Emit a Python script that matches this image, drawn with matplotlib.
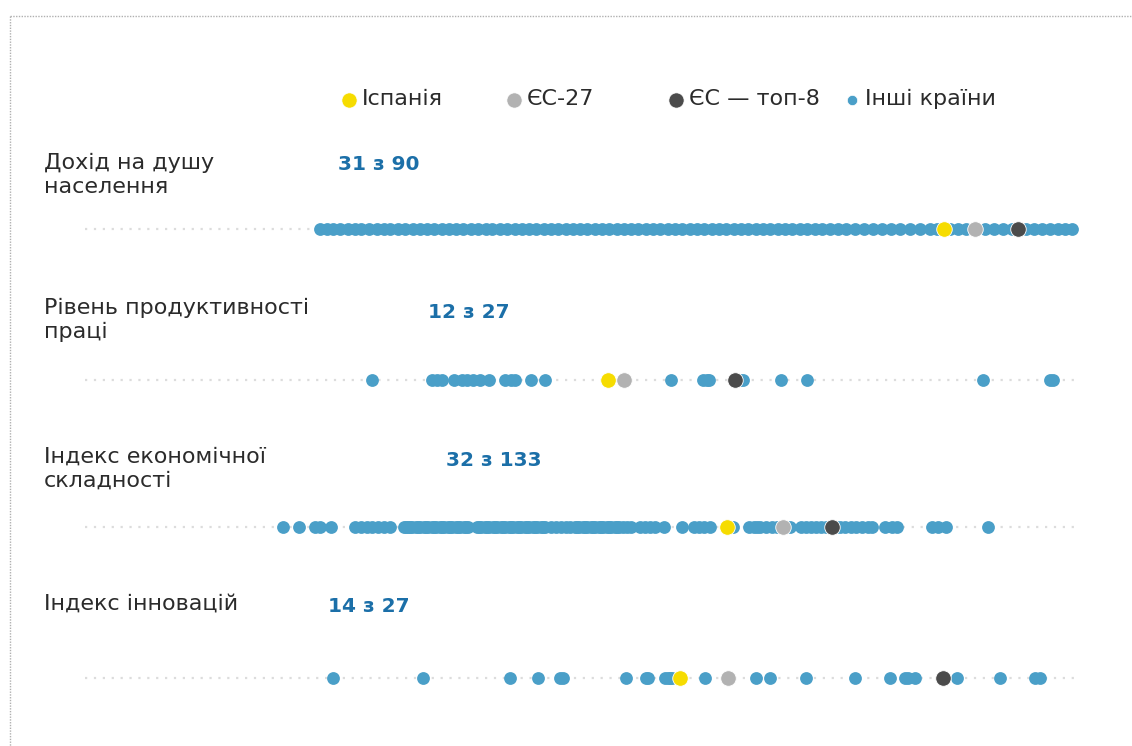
import numpy as np
import matplotlib
matplotlib.use('Agg')
import matplotlib.pyplot as plt

'''Data read off the reference (arbitrary value scale, left = low, right = high)'''

categories = ['Дохід на душу\nнаселення',
              'Рівень продуктивності\nпраці',
              'Індекс економічної\nскладності',
              'Індекс інновацій']
ranks = ['31 з 90', '12 з 27', '32 з 133', '14 з 27']

spain = [944, 608, 727, 680]
eu27 = [975, 624, 783, 728]
eu_top8 = [1018, 735, 832, 943]

income_others = [320, 327, 333, 340, 348, 355, 361, 369, 377, 384, 390, 398, 405, 413,
                 420, 427, 434, 442, 449, 456, 463, 471, 478, 486, 492, 500, 507, 515,
                 522, 529, 536, 544, 551, 558, 566, 573, 580, 587, 595, 602, 609, 617,
                 624, 631, 638, 646, 653, 660, 668, 675, 682, 690, 697, 704, 712, 719,
                 726, 734, 741, 748, 756, 763, 770, 778, 785, 792, 800, 807, 815, 822,
                 830, 838, 846, 855, 864, 873, 882, 891, 900, 910, 920, 930, 937, 950,
                 958, 966, 985, 994, 1003, 1012, 1026, 1034, 1042, 1050, 1058, 1065, 1072]

productivity_others = [372, 432, 437, 442, 454, 462, 467, 473, 480, 489, 505, 511, 515,
                       531, 545, 671, 703, 707, 709, 740, 743, 781, 807, 983, 1050, 1053]

complexity_others = [283, 299, 315, 320, 331,
                     355, 361, 367, 372, 378, 384, 390,
                     404, 406, 408, 410, 412, 416, 418, 420, 424, 426, 428, 432, 434, 436,
                     440, 442, 444, 448, 450, 452, 456, 458, 460, 464, 466, 468,
                     477, 479, 481, 485, 487, 489, 493, 495, 497, 501, 503, 505, 509, 511,
                     513, 517, 519, 521, 525, 527, 529, 533, 535, 537, 541, 543, 545,
                     551, 556, 561, 566, 570,
                     575, 577, 579, 583, 585, 587, 591, 593, 595, 599, 601, 603, 607, 609,
                     611, 615, 617, 619, 623, 627, 631,
                     640, 645, 650, 655, 664,
                     682, 694, 699, 704, 710,
                     733, 749, 754, 757, 760, 766, 772, 777, 780, 790, 801, 806, 811, 816,
                     821, 826, 836, 840, 845, 851, 856, 862, 868, 872, 885, 892, 897, 932,
                     938, 946, 988]

innovation_others = [333, 423, 510, 538, 560, 563, 626, 646, 648, 665, 668, 670, 672,
                     705, 756, 770, 806, 855, 890, 905, 908, 915, 957, 1000, 1035, 1040]

others = [income_others, productivity_others, complexity_others, innovation_others]

'''Style'''

BLUE = '#4a9fc8'
YELLOW = '#f6dc00'
GREY = '#b2b2b2'
DARK = '#4b4b4b'
RANK_BLUE = '#1b6fa8'
TEXT = '#2b2b2b'

plt.rcParams['font.family'] = ['DejaVu Sans']

row_y = [229, 380, 527, 678]
label_y = [175, 320, 469, 604]
rank_pos = [(338, 164), (428, 312), (446, 461), (328, 607)]

fig = plt.figure(figsize=(11.32, 7.46), dpi=100)
ax = fig.add_axes([0, 0, 1, 1])
ax.set_xlim(0, 1132)
ax.set_ylim(746, 0)
ax.axis('off')

# dotted frame
ax.plot([10, 1140], [16, 16], color='#b0b0b0', lw=1, ls=(0, (1, 1)), clip_on=False)
ax.plot([10, 10], [16, 760], color='#b0b0b0', lw=1, ls=(0, (1, 1)), clip_on=False)

for i in range(len(categories)):
	y = row_y[i]
	ax.plot([85, 1080], [y, y], color='#dcdcdc', lw=1.6, ls=(0, (1, 3)), zorder=1)
	vals = others[i]
	ax.scatter(vals, [y] * len(vals), s=85, color=BLUE, linewidth=0, zorder=2)
	ax.scatter([eu_top8[i]], [y], s=125, color=DARK, edgecolor='white', linewidth=0.6, zorder=4)
	ax.scatter([eu27[i]], [y], s=125, color=GREY, edgecolor='white', linewidth=0.6, zorder=4)
	ax.scatter([spain[i]], [y], s=125, color=YELLOW, edgecolor='white', linewidth=0.6, zorder=5)

	ax.text(44, label_y[i], categories[i], fontsize=16, color=TEXT, va='center', ha='left', linespacing=1.25)
	ax.text(rank_pos[i][0], rank_pos[i][1], ranks[i], fontsize=14.5, color=RANK_BLUE,
	        fontweight='bold', va='center', ha='left')

# legend
legend_items = [(349, YELLOW, 120, 'Іспанія'),
                (514, GREY, 120, 'ЄС-27'),
                (676, DARK, 120, 'ЄС — топ-8'),
                (852, BLUE, 55, 'Інші країни')]
for lx, col, sz, lab in legend_items:
	ax.scatter([lx], [100], s=sz, color=col, edgecolor='white', linewidth=0.5)
	ax.text(lx + 13, 99, lab, fontsize=16, color=TEXT, va='center', ha='left')

fig.savefig('out.png', dpi=100)
